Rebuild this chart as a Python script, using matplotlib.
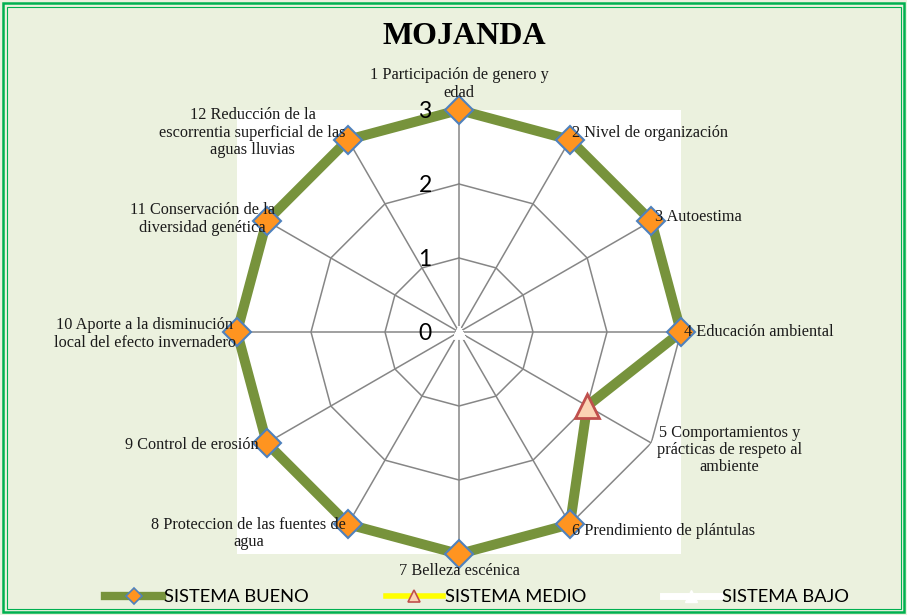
import numpy as np
import matplotlib
matplotlib.use("Agg")
import matplotlib.pyplot as plt
from matplotlib.patches import Rectangle
from matplotlib.lines import Line2D

categories = [
    "1 Participación de genero y\nedad",
    "2 Nivel de organización",
    "3 Autoestima",
    "4 Educación ambiental",
    "5 Comportamientos y\nprácticas de respeto al\nambiente",
    "6 Prendimiento de plántulas",
    "7 Belleza escénica",
    "8 Proteccion de las fuentes de\nagua",
    "9 Control de erosión",
    "10 Aporte a la disminución\nlocal del efecto invernadero",
    "11 Conservación de la\ndiversidad genética",
    "12 Reducción de la\nescorrentia superficial de las\naguas lluvias",
]
bueno = [3, 3, 3, 3, 2, 3, 3, 3, 3, 3, 3, 3]
medio = [np.nan, np.nan, np.nan, np.nan, 2, np.nan, np.nan, np.nan, np.nan, np.nan, np.nan, np.nan]
bajo = [0, 0, 0, 0, 0, 0, 0, 0, 0, 0, 0, 0]
radial_ticks = [0, 1, 2, 3]
series_names = ["SISTEMA BUENO", "SISTEMA MEDIO", "SISTEMA BAJO"]
title = "MOJANDA"

BG = "#EBF1DE"
GREEN = "#77933C"
GRID = "#868686"
BORDER = "#00B050"
ORANGE = "#FF9420"
BLUE = "#4F81BD"

W, H = 907, 615
fig = plt.figure(figsize=(W / 100, H / 100), dpi=100)
fig.patch.set_facecolor(BG)

# borders
fig.patches.append(Rectangle((3 / W, 3 / H), 1 - 6 / W, 1 - 6 / H, transform=fig.transFigure,
                             fill=False, edgecolor=BORDER, linewidth=1.8, zorder=10))
fig.patches.append(Rectangle((6.5 / W, 6.5 / H), 1 - 13 / W, 1 - 13 / H, transform=fig.transFigure,
                             fill=False, edgecolor=BORDER, linewidth=0.8, zorder=10))

# plot area (white square)
x0, x1, y0, y1 = 237, 681, 110, 554
rect = [x0 / W, 1 - y1 / H, (x1 - x0) / W, (y1 - y0) / H]
fig.patches.append(Rectangle((rect[0], rect[1]), rect[2], rect[3], transform=fig.transFigure,
                             facecolor="white", edgecolor="none", zorder=-5))

ax = fig.add_axes(rect, projection="polar")
ax.set_facecolor("none")
ax.patch.set_alpha(0)
ax.set_theta_zero_location("N")
ax.set_theta_direction(-1)
ax.set_ylim(0, 3)
ax.grid(False)
ax.spines["polar"].set_visible(False)
ax.set_xticks([])
ax.set_yticks([])

n = len(categories)
theta = np.arange(n) * 2 * np.pi / n
theta_c = np.append(theta, theta[0])

# polygon grid
for r in radial_ticks[1:]:
    ax.plot(theta_c, [r] * (n + 1), color=GRID, lw=1.1, zorder=1)
for t in theta:
    ax.plot([t, t], [0, 3], color=GRID, lw=1.1, zorder=1)

# radial labels
for r in radial_ticks:
    dy = -2 if r == radial_ticks[-1] else -1
    ax.annotate(str(r), (0, r), xytext=(-34, dy), textcoords="offset pixels",
                ha="center", va="center", fontsize=16.5, family="Lato", color="black", zorder=8,
                annotation_clip=False)

# series
bj = np.append(bajo, bajo[0])
ax.plot(theta_c, bj, color="white", lw=6, marker="^", ms=9, mfc="white", mec="white", zorder=3,
        clip_on=False)
bu = np.append(bueno, bueno[0])
ax.plot(theta_c, bu, color=GREEN, lw=7.2, zorder=4, clip_on=False, solid_joinstyle="miter")
mask = np.isnan(np.array(medio, dtype=float))
ax.plot(theta[mask], np.array(bueno)[mask], ls="none", marker="D", ms=14.5, mfc=ORANGE, mec=BLUE,
        mew=1.5, zorder=5, clip_on=False)
ax.plot(theta, medio, ls="none", marker="^", ms=17, mfc="#FBD4B4", mec="#C0504D",
        mew=2, zorder=6, clip_on=False)

# category labels
offsets = [
    ((0, 26), "center"),
    ((2, 7), "left"),
    ((4, 4), "left"),
    ((3, 0), "left"),
    ((78, -7), "center"),
    ((2, -7), "left"),
    ((0, -17), "center"),
    ((-2, -9), "right"),
    ((-8, -2), "right"),
    ((-1, -2), "right"),
    ((8, 2), "right"),
    ((-2, 7), "right"),
]
for t, lab, (off, ha) in zip(theta, categories, offsets):
    ax.annotate(lab, (t, 3), xytext=off, textcoords="offset pixels", ha=ha, va="center",
                multialignment="center", fontsize=11.7, family="Liberation Serif",
                color="#1a1a1a", zorder=7, annotation_clip=False, linespacing=1.12)

fig.text(464 / W, 1 - 36 / H, title, ha="center", va="center", fontsize=23, fontweight="bold",
         family="Liberation Serif")

handles = [
    Line2D([], [], color=GREEN, lw=6, marker="D", ms=8, mfc=ORANGE, mec=BLUE, mew=1.2),
    Line2D([], [], color="#FFFF00", lw=4, marker="^", ms=9, mfc="#FBD4B4", mec="#C0504D", mew=1.2),
    Line2D([], [], color="white", lw=5, marker="^", ms=9, mfc="white", mec="white"),
]
fig.legend(handles, series_names, loc="center", bbox_to_anchor=(477 / W, 18 / H), ncol=3,
           frameon=False, handlelength=3.1, handletextpad=0.1, columnspacing=4.2,
           prop={"family": "Lato", "size": 13.2})

fig.savefig("out.png", dpi=100, facecolor=BG)
